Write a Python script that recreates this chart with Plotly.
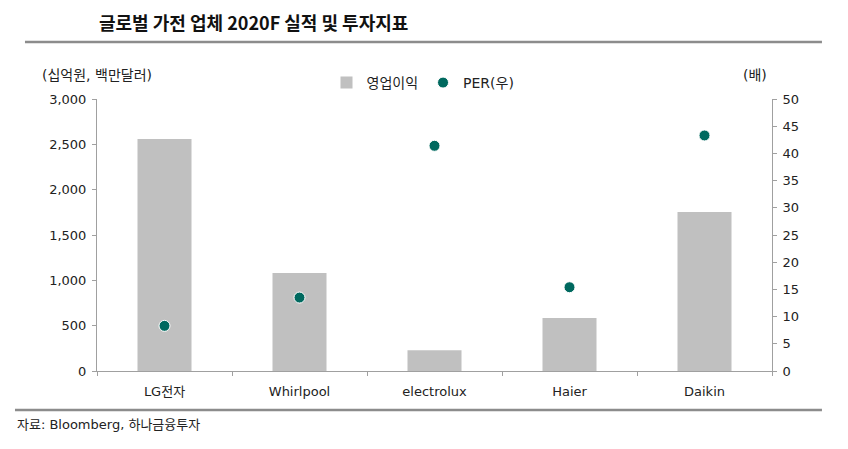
import plotly.graph_objects as go

### 1. DATA
companies = ["LG전자", "Whirlpool", "electrolux", "Haier", "Daikin"]
op_profit = [2560, 1080, 230, 585, 1755]   # 영업이익 (십억원, 백만달러)
per = [8.3, 13.5, 41.4, 15.4, 43.3]         # PER (배)

FONT = "DejaVu Sans, Noto Sans CJK KR"
AXIS_GRAY = "#A0A0A0"

### 2. PLOT
fig = go.Figure()
fig.add_trace(go.Bar(x=companies, y=op_profit, name="영업이익",
                     marker_color="#C0C0C0", marker_line_width=0, width=0.4))
fig.add_trace(go.Scatter(x=companies, y=per, name="PER(우)", yaxis="y2",
                         mode="markers",
                         marker=dict(color="#00695F", size=11,
                                     line=dict(color="white", width=1))))

axis_common = dict(showline=True, linecolor=AXIS_GRAY, linewidth=1,
                   ticks="outside", tickcolor=AXIS_GRAY, ticklen=4,
                   showgrid=False, zeroline=False,
                   tickfont=dict(size=13, color="#222"))

fig.update_xaxes(tickson="boundaries", ticklabelstandoff=8, **axis_common)
fig.update_layout(
    yaxis=dict(range=[0, 3000], dtick=500, tickformat=",", ticklabelstandoff=3, **axis_common),
    yaxis2=dict(range=[0, 50], dtick=5, overlaying="y", side="right",
                ticklabelstandoff=3, **axis_common),
)

### 3. TEXT & LINES
# page is drawn with an 8px body margin, so figure is 840x441 and positions are shifted
fig.add_annotation(text="<b>글로벌 가전 업체 2020F 실적 및 투자지표</b>", xref="paper", yref="paper",
                   x=0.0, y=1.283, xanchor="left", yanchor="middle", showarrow=False,
                   font=dict(family="Noto Sans CJK KR", size=18, color="#111"))
fig.add_annotation(text="(십억원, 백만달러)", xref="paper", yref="paper",
                   x=-0.0844, y=1.088, xanchor="left", yanchor="middle", showarrow=False,
                   font=dict(size=14, color="#222"))
fig.add_annotation(text="(배)", xref="paper", yref="paper",
                   x=0.975, y=1.088, xanchor="center", yanchor="middle", showarrow=False,
                   font=dict(size=14, color="#222"))
fig.add_annotation(text="자료: Bloomberg, 하나금융투자", xref="paper", yref="paper",
                   x=-0.1215, y=-0.1985, xanchor="left", yanchor="middle", showarrow=False,
                   font=dict(size=13, color="#222"))

fig.add_shape(type="line", xref="paper", yref="paper", x0=-0.1067, x1=1.074, y0=1.2096, y1=1.2096,
              line=dict(color="#8C8C8C", width=2.5))
fig.add_shape(type="line", xref="paper", yref="paper", x0=-0.1215, x1=1.074, y0=-0.1434, y1=-0.1434,
              line=dict(color="#8C8C8C", width=2.5))

fig.update_layout(
    width=840, height=441,
    margin=dict(l=89, r=76, t=91, b=78),
    plot_bgcolor="white", paper_bgcolor="white",
    font=dict(family=FONT, size=13, color="#222"),
    showlegend=True,
    legend=dict(orientation="h", x=0.34, y=1.059, xanchor="left", yanchor="middle",
                font=dict(size=14), itemwidth=30, tracegroupgap=0),
    bargap=0.6,
)

fig.write_html("out.html")
